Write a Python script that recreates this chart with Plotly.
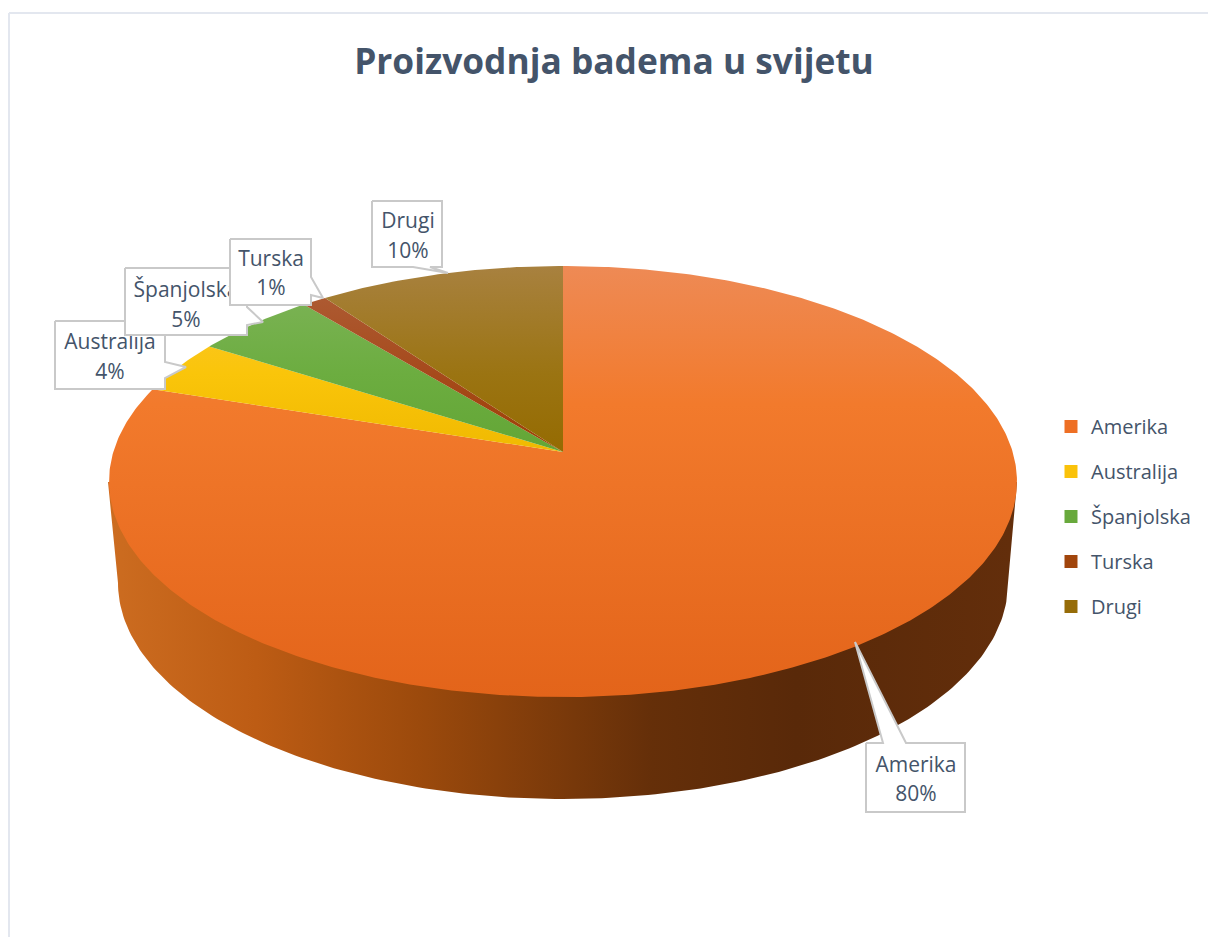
import numpy as np
import plotly.graph_objects as go

TITLE = "Proizvodnja badema u svijetu"
categories = ["Amerika", "Australija", "Španjolska", "Turska", "Drugi"]
values = [80, 4, 5, 1, 10]
percent_labels = ["80%", "4%", "5%", "1%", "10%"]
top_colors = [
    [(0, "#ee8a55"), (0.32, "#f27a2c"), (1, "#e3641a")],
    [(0, "#fcc63c"), (0.25, "#fac50a"), (0.45, "#efb800"), (1, "#efb800")],
    [(0, "#80b45c"), (0.25, "#6cad40"), (0.45, "#62a535"), (1, "#62a535")],
    [(0, "#b0603a"), (0.25, "#a64a1c"), (0.45, "#9c3f00"), (1, "#9c3f00")],
    [(0, "#a8813f"), (0.25, "#9b7412"), (0.45, "#946a00"), (1, "#946a00")],
]
legend_colors = ["#ee6f24", "#fac20a", "#68a93c", "#a1450c", "#966c08"]
wall_scale = [(0, "#cc6c20"), (0.16, "#bd5c14"), (0.34, "#9c4a0c"), (0.6, "#652f09"),
              (0.76, "#592909"), (1, "#632e0b")]

# (box polygon, text centre) for the callouts, in picture pixels
callouts = {
    "Australija": ([55, 165, 165, 186, 165, 165, 55], [321, 321, 362, 367, 378, 389, 389], (110, 358.5)),
    "Španjolska": ([125, 247, 247, 263, 247, 247, 125], [268, 268, 307, 322, 325, 335, 335], (186, 306.5)),
    "Turska": ([230, 311, 311, 323, 311, 311, 230], [239, 239, 277, 298, 295, 305, 305], (271, 275)),
    "Drugi": ([372, 442, 442, 430, 448, 413, 372], [201, 201, 267, 267, 273, 267, 267], (408, 237.5)),
    "Amerika": ([866, 883, 855, 906, 965, 965, 866], [743, 743, 642, 743, 743, 812, 812], (916, 781)),
}
callout_order = ["Australija", "Španjolska", "Turska", "Drugi", "Amerika"]

CX, CY, A, B, K = 563.0, 452.0, 211.5, 449.7, 0.137
TEXT = "#44546a"
FONT = "Open Sans"


def rim(theta):
    d = 1 + K * np.cos(theta)
    return CX + B * np.sin(theta) / d, CY - A * np.cos(theta) / d


fig = go.Figure()

# Side wall
t = np.linspace(0, np.pi, 181)
wx = np.concatenate([[1017], 563 + 445 * np.cos(t), [108, 1017]])
wy = np.concatenate([[482], 583 + 216 * np.sin(t), [482, 482]])
fig.add_trace(go.Scatter(x=wx, y=wy, mode="lines", line=dict(width=0), fill="toself",
                         fillgradient=dict(type="horizontal", colorscale=wall_scale, start=112, stop=1012),
                         hoverinfo="skip", showlegend=False))

# Top face wedges
frac = np.cumsum([0] + values) / sum(values)
for i, cat in enumerate(categories):
    th = np.linspace(frac[i], frac[i + 1], max(8, int(values[i] * 6))) * 2 * np.pi
    x, y = rim(th)
    fig.add_trace(go.Scatter(x=np.r_[CX, x, CX], y=np.r_[CY, y, CY], mode="lines", line=dict(width=0),
                             fill="toself",
                             fillgradient=dict(type="vertical", colorscale=top_colors[i], start=266, stop=697),
                             name=cat, hoverinfo="skip", showlegend=False))

# Callouts
pct = dict(zip(categories, percent_labels))
for cat in callout_order:
    bx, by, (tx, ty) = callouts[cat]
    fig.add_trace(go.Scatter(x=bx + bx[:1], y=by + by[:1], mode="lines", fill="toself", fillcolor="white",
                             line=dict(color="#c9c9c9", width=2), hoverinfo="skip", showlegend=False))
    fig.add_trace(go.Scatter(x=[tx, tx], y=[ty - 14.75, ty + 14.75], mode="text", text=[cat, pct[cat]],
                             textposition="middle center",
                             textfont=dict(family=FONT, size=21, color=TEXT),
                             hoverinfo="skip", showlegend=False))

# Legend entries
for cat, col in zip(categories, legend_colors):
    fig.add_trace(go.Scatter(x=[None], y=[None], mode="markers", name=cat, legendgroup=cat,
                             marker=dict(symbol="square", size=13, color=col)))

fig.update_layout(
    width=1208, height=937, margin=dict(l=0, r=0, t=0, b=0),
    paper_bgcolor="white", plot_bgcolor="white",
    title=dict(text=f"<b>{TITLE}</b>", x=614 / 1208, xanchor="center", y=1 - 62 / 937, yanchor="middle",
               font=dict(family=FONT, size=35.3, color=TEXT)),
    xaxis=dict(range=[0, 1208], visible=False, fixedrange=True),
    yaxis=dict(range=[937, 0], visible=False, fixedrange=True),
    legend=dict(x=1051 / 1208, xanchor="left", y=1 - 407 / 937, yanchor="top", bgcolor="rgba(0,0,0,0)",
                font=dict(family=FONT, size=20, color=TEXT), tracegroupgap=16, itemwidth=30),
    shapes=[
        dict(type="line", xref="x", yref="y", x0=9, x1=9, y0=13, y1=937, line=dict(color="#e3e7ef", width=2), layer="below"),
        dict(type="line", xref="x", yref="y", x0=9, x1=1208, y0=13, y1=13, line=dict(color="#e3e7ef", width=2), layer="below"),
    ],
)

fig.write_html("out.html", config=dict(displayModeBar=False),
               post_script="document.body.style.margin='0';document.body.style.overflow='hidden';")
